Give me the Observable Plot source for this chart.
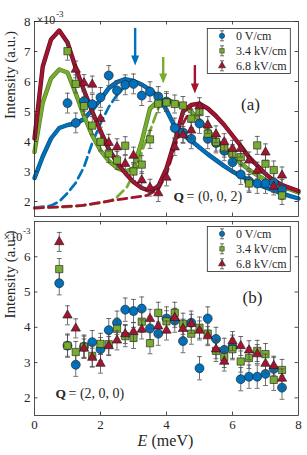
<!DOCTYPE html>
<html>
<head>
<meta charset="utf-8">
<script src="https://cdn.jsdelivr.net/npm/d3@7"></script>
<script src="https://cdn.jsdelivr.net/npm/@observablehq/plot@0.6"></script>
<style>
  html,body{margin:0;padding:0;background:#fff;}
  #fig{position:relative;width:307px;height:455px;overflow:hidden;}
  #fig > svg{position:absolute;left:0;}
</style>
</head>
<body>
<div id="fig"></div>
<script>
// ---------------- data ----------------
const seriesNames = ["0 V/cm", "3.4 kV/cm", "6.8 kV/cm"];
const seriesColors = ["#0072BD", "#77AC30", "#A2142F"];
const seriesEdges = ["#0b4f80", "#557f22", "#6a0c1f"];
const seriesSymbols = ["circle", "square", "triangle"];

// panel (a): Q = (0,0,2)
const eTopBlue  = [1.0,1.25,1.5,1.75,2.0,2.25,2.5,2.75,3.0,3.25,3.5,3.75,4.0,4.25,4.5,4.75,5.0,5.25,5.5,5.75,6.0,6.25,6.5,6.75,7.0,7.25,7.5];
const topBlue   = [5.28,4.62,5.34,5.24,5.47,6.2,5.7,5.89,5.92,5.53,5.66,5.5,5.33,4.45,4.3,4.09,4.6,4.09,3.95,3.69,3.31,2.9,2.68,2.6,2.6,2.63,2.4];
const eTopGreen = [1.0,1.25,1.5,1.75,2.0,2.25,2.5,2.75,3.0,3.25,3.5,3.75,4.0,4.25,4.5,4.75,5.0,5.25,5.5,5.75,6.0,6.25,6.5,6.75,7.0,7.25,7.5];
const topGreen  = [7.01,5.92,5.18,4.53,3.99,3.6,3.37,3.86,3.0,3.23,4.07,5.26,5.3,5.25,5.2,4.76,4.98,4.26,3.98,3.78,3.59,3.48,2.6,3.87,3.26,3.05,2.2];
const eTopRed   = [1.25,1.5,1.75,2.0,2.25,2.5,2.75,3.0,3.25,3.5,3.75,4.0,4.25,4.5,4.75,5.0,5.25,5.5,5.75,6.0,6.25,6.5,6.75,7.0,7.25,7.5];
const topRed    = [6.4,5.95,5.9,4.76,3.96,3.81,3.26,3.53,2.71,2.46,2.28,2.8,3.81,4.22,4.37,5.18,4.55,4.24,3.98,3.76,3.76,3.37,3.03,3.64,2.5,2.87];
const errTop    = [0.33, 0.3, 0.28];

// fitted curves (panel a)
const eFit     = [0,0.25,0.5,0.75,1.0,1.25,1.5,1.75,2.0,2.25,2.5,2.75,3.0,3.25,3.5,3.75,4.0,4.25,4.5,4.75,5.0,5.25,5.5,5.75,6.0,6.25,6.5,6.75,7.0,7.25,7.5,7.75,8.0];
const fitBlue  = [2.78,3.5,4.1,4.45,4.55,4.6,4.75,5.05,5.4,5.78,5.98,6.08,6.02,5.9,5.72,5.5,5.05,4.5,4.22,4.03,3.8,3.58,3.38,3.18,3.0,2.85,2.72,2.58,2.47,2.37,2.27,2.18,2.1];
const fitGreen = [3.65,5.3,6.1,6.4,6.3,5.6,4.85,4.2,3.7,3.35,3.12,3.0,3.1,4.0,5.1,5.35,5.4,5.3,5.2,5.0,4.7,4.4,4.05,3.75,3.5,3.28,3.05,2.88,2.72,2.6,2.48,2.4,2.3];
const fitRed   = [4.1,6.5,7.4,7.7,7.3,6.45,5.7,5.0,4.35,3.75,3.3,2.95,2.65,2.45,2.35,2.5,3.1,4.0,5.0,5.22,5.26,5.1,4.85,4.55,4.2,3.85,3.48,3.2,2.92,2.7,2.55,2.45,2.35];

// single-mode components (dashed)
const dashBlueE  = [0,0.5,0.75,1.0,1.25,1.5,1.75,2.0,2.25,2.5,2.75,3.0,3.25];
const dashBlueI  = [1.8,1.86,2.0,2.28,2.62,3.15,3.95,4.6,5.15,5.55,5.85,5.98,5.9];
const dashGreenE = [0,1.0,1.5,2.0,2.3,2.5,2.8,3.1,3.3,3.55,3.75,3.9];
const dashGreenI = [1.79,1.82,1.87,1.95,2.03,2.15,2.48,3.14,3.8,4.5,5.1,5.4];
const dashRedE   = [0,0.75,1.45,2.0,2.7,3.4,3.75,4.0,4.25,4.5,4.75];
const dashRedI   = [1.78,1.82,1.87,1.97,2.09,2.2,2.4,2.9,3.8,4.6,5.1];

// mode-position arrows (panel a)
const arrowE    = [3.05, 3.9, 4.86];
const arrowFrom = [7.77, 6.8, 6.53];
const arrowTo   = [6.53, 5.93, 5.6];

// panel (b): Q = (2,0,0)
const eBot     = [0.75,1.0,1.25,1.5,1.75,2.0,2.25,2.5,2.75,3.0,3.25,3.5,3.75,4.0,4.25,4.5,4.75,5.0,5.25,5.5,5.75,6.0,6.25,6.5,6.75,7.0,7.25,7.5];
const botBlue  = [5.25,3.48,2.94,3.45,3.58,3.38,3.92,4.13,4.5,4.46,4.53,3.97,3.82,4.25,4.19,3.61,4.13,2.84,4.25,3.67,3.36,3.45,2.53,2.6,2.6,2.68,2.82,2.29];
const botGreen = [5.65,3.48,3.3,3.45,3.19,3.53,3.52,3.96,3.75,3.7,4.16,3.55,4.41,4.17,4.41,4.1,3.82,3.99,3.82,3.33,3.16,3.38,3.03,3.13,3.33,3.24,2.51,2.79];
const botRed   = [6.42,4.34,3.97,3.4,3.14,2.97,3.47,3.63,3.81,3.87,3.94,4.24,4.03,3.91,4.27,3.96,4.1,3.91,3.75,3.38,3.03,3.61,3.47,3.35,3.24,2.97,2.91,2.55];
const errBot   = [0.33, 0.3, 0.27];

// axes
const xTicks      = [0, 2, 4, 6, 8];
const xInnerTicks = [2, 4, 6];
const yTicksTop   = [2, 3, 4, 5, 6, 7, 8];
const yTicksBot   = [2, 3, 4, 5, 6];

// ---------------- helpers ----------------
const FONT = "'Liberation Serif','DejaVu Serif','Times New Roman',serif";
const INK = "#262626";
const W = 307, ML = 34, MR = 9;
const pts = (E, I) => E.map((e, i) => ({E: e, I: I[i]}));
const capSymbol = {draw(ctx, size) { const r = Math.sqrt(size / Math.PI); ctx.moveTo(-r, 0); ctx.lineTo(r, 0); }};
const headSymbol = {draw(ctx) { ctx.moveTo(-4, -10); ctx.lineTo(4, -10); ctx.lineTo(0, 0); ctx.closePath(); }};
const markerR = [4.5, 4.1, 3.5];

function panel(cfg) {
  const plotW = W - ML - MR;
  const plotH = cfg.height - cfg.mT - cfg.mB;
  const marks = [];
  (cfg.dashes || []).forEach((d, k) => marks.push(
    Plot.line(pts(d[0], d[1]), {x: "E", y: "I", stroke: seriesColors[k], strokeWidth: 2.7, strokeDasharray: "9,5"})));
  (cfg.fits || []).forEach((f, k) => {
    marks.push(Plot.line(pts(eFit, f), {x: "E", y: "I", stroke: seriesEdges[k], strokeWidth: 4.4, strokeLinejoin: "round"}));
    marks.push(Plot.line(pts(eFit, f), {x: "E", y: "I", stroke: seriesColors[k], strokeWidth: 3, strokeLinejoin: "round"}));
  });
  if (cfg.arrows) {
    arrowE.forEach((e, k) => {
      const a = [{E: e, from: arrowFrom[k], to: arrowTo[k]}];
      marks.push(Plot.ruleX(a, {x: "E", y1: "from", y2: "to", insetBottom: 6, stroke: seriesColors[k], strokeWidth: 2.4}));
      marks.push(Plot.dot(a, {x: "E", y: "to", symbol: headSymbol, r: 5, fill: seriesColors[k], stroke: "none"}));
    });
  }
  cfg.series.forEach((s, k) => {
    const data = pts(s[0], s[1]);
    const err = cfg.err[k];
    marks.push(Plot.ruleX(data, {x: "E", y1: d => d.I - err, y2: d => d.I + err, stroke: "#4a4a4a", strokeWidth: 0.8}));
    marks.push(Plot.dot(data, {x: "E", y: d => d.I + err, symbol: capSymbol, r: 2.4, fill: "none", stroke: "#4a4a4a", strokeWidth: 0.8}));
    marks.push(Plot.dot(data, {x: "E", y: d => d.I - err, symbol: capSymbol, r: 2.4, fill: "none", stroke: "#4a4a4a", strokeWidth: 0.8}));
    marks.push(Plot.dot(data, {x: "E", y: "I", symbol: seriesSymbols[k], r: markerR[k], fill: seriesColors[k], stroke: "#1a1a1a", strokeWidth: 0.6}));
  });
  // inward ticks on all four sides
  marks.push(Plot.tickX(xInnerTicks, {x: d => d, insetTop: plotH - 3.5, stroke: INK, strokeWidth: 0.8}));
  marks.push(Plot.tickX(xInnerTicks, {x: d => d, insetBottom: plotH - 3.5, stroke: INK, strokeWidth: 0.8}));
  marks.push(Plot.tickY(cfg.yTicks, {y: d => d, insetLeft: plotW - 3.5, stroke: INK, strokeWidth: 0.8}));
  marks.push(Plot.tickY(cfg.yTicks, {y: d => d, insetRight: plotW - 3.5, stroke: INK, strokeWidth: 0.8}));
  marks.push(Plot.frame({stroke: INK, strokeWidth: 0.8}));
  // tick labels
  marks.push(Plot.text(cfg.yTicks, {y: d => d, text: d => String(d), frameAnchor: "left", dx: -4, textAnchor: "end", fontSize: 13, fill: INK}));
  if (cfg.xLabels) {
    marks.push(Plot.text(xTicks, {x: d => d, text: d => String(d), frameAnchor: "bottom", dy: 13.5, fontSize: 13, fill: INK}));
    marks.push(Plot.text(["E"], {text: d => d, frameAnchor: "bottom-left", dx: 103, dy: 30, textAnchor: "start", fontStyle: "italic", fontSize: 16, fill: INK}));
    marks.push(Plot.text(["(meV)"], {text: d => d, frameAnchor: "bottom-left", dx: 117, dy: 30, textAnchor: "start", fontSize: 16, fill: INK}));
  }
  // y label
  marks.push(Plot.text(["Intensity (a.u.)"], {text: d => d, frameAnchor: "left", dx: -24, rotate: -90, fontSize: 15, fill: INK}));
  // exponent
  marks.push(Plot.text(["×10"], {text: d => d, frameAnchor: "top-left", dx: cfg.exp[0], dy: cfg.exp[1], textAnchor: "start", fontSize: 12, fill: INK}));
  marks.push(Plot.text(["-3"], {text: d => d, frameAnchor: "top-left", dx: cfg.exp[0] + 19.5, dy: cfg.exp[1] - 5, textAnchor: "start", fontSize: 9, fill: INK}));
  // panel letter
  marks.push(Plot.text([cfg.letter], {text: d => d, frameAnchor: "top-left", dx: cfg.letterPos[0], dy: cfg.letterPos[1], textAnchor: "middle", fontSize: 17, fill: INK}));
  // Q label
  marks.push(Plot.text(["Q"], {text: d => d, frameAnchor: "bottom-left", dx: cfg.qPos[0], dy: cfg.qPos[1], textAnchor: "start", fontWeight: "bold", fontSize: 13.5, fill: INK}));
  marks.push(Plot.text([cfg.qText], {text: d => d, frameAnchor: "bottom-left", dx: cfg.qPos[0] + 13, dy: cfg.qPos[1], textAnchor: "start", fontSize: 14, fill: INK}));

  const svg = Plot.plot({
    width: W, height: cfg.height,
    marginLeft: ML, marginRight: MR, marginTop: cfg.mT, marginBottom: cfg.mB,
    x: {domain: [0, 8], axis: null},
    y: {domain: cfg.yDomain, axis: null},
    style: {fontFamily: FONT, fontSize: "13px", color: INK, background: "transparent", overflow: "visible"},
    marks
  });
  svg.style.top = cfg.top + "px";
  return svg;
}

function legend(top) {
  const svg = d3.create("svg").attr("width", 86).attr("height", 48)
    .style("position", "absolute").style("left", "206px").style("top", top + "px")
    .style("font-family", FONT);
  svg.append("rect").attr("x", 1.3).attr("y", 0.5).attr("width", 83).attr("height", 45)
    .attr("fill", "#fff").attr("stroke", INK).attr("stroke-width", 0.8);
  const sizes = [22, 20, 22];
  seriesNames.forEach((name, k) => {
    const cy = 7.8 + 15 * k, cx = 16;
    const g = svg.append("g");
    g.append("line").attr("x1", cx).attr("x2", cx).attr("y1", cy - 5).attr("y2", cy + 5).attr("stroke", "#4a4a4a").attr("stroke-width", 0.8);
    g.append("line").attr("x1", cx - 2).attr("x2", cx + 2).attr("y1", cy - 5).attr("y2", cy - 5).attr("stroke", "#4a4a4a").attr("stroke-width", 0.8);
    g.append("line").attr("x1", cx - 2).attr("x2", cx + 2).attr("y1", cy + 5).attr("y2", cy + 5).attr("stroke", "#4a4a4a").attr("stroke-width", 0.8);
    const type = [d3.symbolCircle, d3.symbolSquare, d3.symbolTriangle][k];
    g.append("path").attr("d", d3.symbol(type, sizes[k])()).attr("transform", `translate(${cx},${cy})`)
      .attr("fill", seriesColors[k]).attr("stroke", "#1a1a1a").attr("stroke-width", 0.5);
    g.append("text").attr("x", 30).attr("y", cy).attr("dy", "0.35em").attr("font-size", 12).attr("fill", INK).text(name);
  });
  return svg.node();
}

const fig = document.getElementById("fig");
fig.appendChild(panel({
  top: 0, height: 219, mT: 21, mB: 3, yDomain: [1.5, 8], yTicks: yTicksTop,
  series: [[eTopBlue, topBlue], [eTopGreen, topGreen], [eTopRed, topRed]], err: errTop,
  fits: [fitBlue, fitGreen, fitRed],
  dashes: [[dashBlueE, dashBlueI], [dashGreenE, dashGreenI], [dashRedE, dashRedI]],
  arrows: true, xLabels: false,
  exp: [2, -6], letter: "(a)", letterPos: [216, 76], qPos: [139, -16], qText: "= (0, 0, 2)"
}));
fig.appendChild(panel({
  top: 219, height: 236, mT: 2, mB: 40, yDomain: [1.5, 7], yTicks: yTicksBot,
  series: [[eBot, botBlue], [eBot, botGreen], [eBot, botRed]], err: errBot,
  arrows: false, xLabels: true,
  exp: [-31, 11], letter: "(b)", letterPos: [218, 69], qPos: [21, -18], qText: "= (2, 0, 0)"
}));
fig.appendChild(legend(27.5));
fig.appendChild(legend(226));
</script>
</body>
</html>
